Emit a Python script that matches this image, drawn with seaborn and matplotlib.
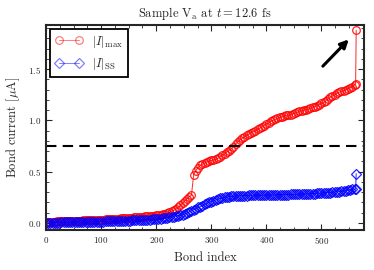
import numpy as np
import matplotlib
matplotlib.use("Agg")
import matplotlib.pyplot as plt
from matplotlib.ticker import MultipleLocator
import seaborn as sns

# bond indices (every 4th bond plus the last two bonds)
bond_index = list(range(0, 561, 4)) + [562, 563]

# |I|_max per bond [uA]
i_max = [
    0.010, 0.011, 0.012, 0.013, 0.013, 0.014, 0.015, 0.016, 0.017, 0.017,  # 0-36
    0.018, 0.019, 0.020, 0.021, 0.021, 0.022, 0.023, 0.024, 0.025, 0.025,  # 40-76
    0.026, 0.027, 0.028, 0.029, 0.030,                                     # 80-96
    0.031, 0.032, 0.034, 0.035, 0.036, 0.038, 0.039, 0.040, 0.042, 0.043,  # 100-136
    0.045, 0.046, 0.048, 0.050, 0.051, 0.053, 0.055, 0.057, 0.059, 0.061,  # 140-176
    0.063, 0.065, 0.067, 0.069, 0.071,                                     # 180-196
    0.073, 0.077, 0.080, 0.085, 0.090, 0.098, 0.105, 0.113, 0.122, 0.135,  # 200-236
    0.150, 0.170, 0.195, 0.215, 0.235, 0.255, 0.270,                       # 240-264
    0.470, 0.510, 0.540, 0.560, 0.575, 0.585, 0.595, 0.600, 0.610, 0.615,  # 268-304
    0.620, 0.630, 0.645, 0.660, 0.675, 0.690, 0.705, 0.720, 0.745, 0.770,  # 308-344
    0.790, 0.810, 0.825, 0.840, 0.855, 0.865, 0.880, 0.890, 0.900, 0.915,  # 348-384
    0.925, 0.935, 0.950, 0.965, 0.975, 0.990, 1.000, 1.010, 1.020, 1.030,  # 388-424
    1.035, 1.040, 1.050, 1.050, 1.055, 1.065, 1.070, 1.080, 1.090, 1.095,  # 428-464
    1.100, 1.105, 1.110, 1.120, 1.130, 1.135, 1.145, 1.155, 1.165, 1.175,  # 468-504
    1.190, 1.210, 1.225, 1.240, 1.250, 1.265, 1.275, 1.285, 1.290, 1.300,  # 508-544
    1.310, 1.320, 1.330, 1.345,                                            # 548-560
    1.360, 1.880,                                                          # 562-563
]

# |I|_SS per bond [uA]
i_ss = [
    0.000, 0.001, 0.001, 0.002, 0.002, 0.003, 0.003, 0.004, 0.004, 0.005,  # 0-36
    0.005, 0.006, 0.006, 0.007, 0.007, 0.008, 0.008, 0.009, 0.009, 0.010,  # 40-76
    0.010, 0.010, 0.011, 0.011, 0.012,                                     # 80-96
    0.012, 0.013, 0.014, 0.014, 0.015, 0.016, 0.017, 0.017, 0.018, 0.019,  # 100-136
    0.020, 0.021, 0.022, 0.023, 0.024, 0.025, 0.026, 0.027, 0.028, 0.029,  # 140-176
    0.030, 0.031, 0.032, 0.033, 0.034,                                     # 180-196
    0.035, 0.037, 0.040, 0.043, 0.046, 0.050, 0.054, 0.058, 0.062, 0.066,  # 200-236
    0.070, 0.075, 0.080, 0.088, 0.097, 0.107, 0.118,                       # 240-264
    0.130, 0.140, 0.150, 0.158, 0.168, 0.180, 0.192, 0.200, 0.208, 0.216,  # 268-304
    0.224, 0.232, 0.238, 0.244, 0.249, 0.253, 0.256, 0.258, 0.260, 0.262,  # 308-344
    0.264, 0.265, 0.266, 0.267, 0.267, 0.268, 0.268, 0.269, 0.269, 0.270,  # 348-384
    0.270, 0.270, 0.271, 0.271, 0.272, 0.272, 0.273, 0.273, 0.274, 0.274,  # 388-424
    0.275, 0.275, 0.276, 0.276, 0.277, 0.278, 0.278, 0.279, 0.280, 0.280,  # 428-464
    0.281, 0.282, 0.283, 0.284, 0.285, 0.286, 0.287, 0.288, 0.290, 0.291,  # 468-504
    0.293, 0.294, 0.296, 0.298, 0.300, 0.302, 0.304, 0.307, 0.310, 0.314,  # 508-544
    0.318, 0.322, 0.326, 0.328,                                            # 548-560
    0.330, 0.480,                                                          # 562-563
]

threshold = 0.75
title = r"Sample V$_{\rm a}$ at $t = 12.6$ fs"

sns.set_style("ticks")
plt.rcParams["font.family"] = "serif"
plt.rcParams["font.serif"] = ["cmr10", "DejaVu Serif"]
plt.rcParams["mathtext.fontset"] = "cm"
plt.rcParams["axes.formatter.use_mathtext"] = True

fig = plt.figure(figsize=(3.74, 2.70), dpi=100)
ax = fig.add_axes([0.123, 0.148, 0.850, 0.759])

sns.lineplot(x=bond_index, y=i_max, ax=ax, sort=False, estimator=None,
             color="red", lw=0.7, marker="o", ms=5.5, mfc="none", mec="red",
             mew=0.9, alpha=0.85, label=r"$|I|_{\max}$")
sns.lineplot(x=bond_index, y=i_ss, ax=ax, sort=False, estimator=None,
             color="blue", lw=0.7, marker="D", ms=5, mfc="none", mec="blue",
             mew=0.9, alpha=0.85, label=r"$|I|_{\rm SS}$")

ax.axhline(threshold, color="black", ls=(0, (5, 3)), lw=1.5)
ax.annotate("", xy=(553, 1.81), xytext=(499, 1.51),
            arrowprops=dict(arrowstyle="-|>", color="black", lw=2.2,
                            mutation_scale=12))

ax.set_xlim(0, 577)
ax.set_ylim(-0.07, 1.93)
ax.xaxis.set_major_locator(MultipleLocator(100))
ax.xaxis.set_minor_locator(MultipleLocator(25))
ax.yaxis.set_major_locator(MultipleLocator(0.5))
ax.yaxis.set_minor_locator(MultipleLocator(0.1))
ax.tick_params(which="both", direction="in", top=True, right=True, labelsize=6.5)
ax.tick_params(which="major", length=4, width=0.8)
ax.tick_params(which="minor", length=2, width=0.6)
for s in ax.spines.values():
    s.set_linewidth(1.5)

ax.set_xlabel("Bond index", fontsize=9)
ax.set_ylabel(r"Bond current [$\mu$A]", fontsize=9)
ax.set_title(title, fontsize=9)

leg = ax.legend(loc="upper left", fontsize=9, fancybox=False, framealpha=1,
                handlelength=2.2, numpoints=2, borderaxespad=0.3)
leg.get_frame().set_edgecolor("black")
leg.get_frame().set_linewidth(1.3)
# legend symbols look paler in the original
for h in leg.legend_handles:
    h.set_alpha(0.5)

fig.savefig("out.png", dpi=100)
